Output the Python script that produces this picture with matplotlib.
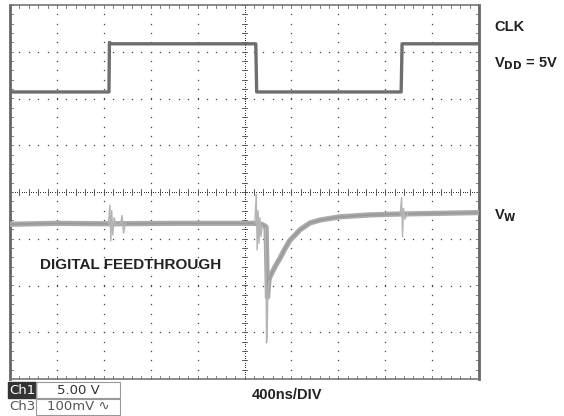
import numpy as np
import matplotlib
matplotlib.use('Agg')
import matplotlib.pyplot as plt
from matplotlib.patches import Rectangle

# screen is 10 x 8 divisions, x in div (0..10), y in div (-4..4)
clk_x = [0.0, 2.11, 2.12, 2.16, 5.24, 5.26, 8.34, 8.36, 10.0]
clk_y = [2.14, 2.14, 3.20, 3.17, 3.17, 2.14, 2.14, 3.17, 3.17]

# wiper output, main band
vw_x = [0.0, 1.0, 2.10, 3.5, 5.20, 5.36, 5.42, 5.46, 5.49, 5.52, 5.54, 5.65, 5.76,
        5.87, 5.97, 6.08, 6.18, 6.40, 6.61, 7.04, 7.68, 8.32, 8.96, 10.0]
vw_y = [-0.69, -0.67, -0.68, -0.67, -0.67, -0.69, -0.72, -0.75, -2.25, -1.90,
        -1.82, -1.60, -1.41, -1.20, -1.03, -0.92, -0.81, -0.66, -0.60, -0.53,
        -0.49, -0.47, -0.46, -0.44]

# ringing on the clock edges and the feedthrough spike
g1_x = [2.10, 2.13, 2.15, 2.17, 2.19, 2.22, 2.26, 2.36, 2.39, 2.42, 2.46]
g1_y = [-0.68, -0.28, -1.05, -0.40, -0.92, -0.55, -0.70, -0.68, -0.50, -0.88, -0.68]
g2_x = [5.22, 5.25, 5.27, 5.29, 5.31, 5.33, 5.35, 5.38]
g2_y = [-0.67, -0.05, -1.24, -0.40, -1.10, -0.55, -0.95, -0.70]
g3_x = [8.32, 8.35, 8.37, 8.39, 8.42, 8.48]
g3_y = [-0.47, -0.12, -0.96, -0.35, -0.58, -0.46]
sp_x = [5.45, 5.47, 5.48, 5.50, 5.52]
sp_y = [-0.75, -3.23, -3.10, -2.10, -1.90]

fig = plt.figure(figsize=(5.64, 4.16), dpi=100)
ax = fig.add_axes([10/564, 37/416, 469/564, 374/416])
ax.set_xlim(0, 10)
ax.set_ylim(-4, 4)
ax.set_xticks([])
ax.set_yticks([])
for s in ['left', 'right']:
    ax.spines[s].set_linewidth(2.0)
    ax.spines[s].set_color('#666666')
for s in ['top', 'bottom']:
    ax.spines[s].set_linewidth(1.2)
    ax.spines[s].set_color('#777777')

dot = dict(color='#444444', marker='s', markersize=0.9, markeredgewidth=0, linestyle='none')
# dotted graticule
for gx in range(1, 10):
    if gx == 5:
        continue
    yy = np.arange(-4, 4.01, 0.2)
    ax.plot(np.full_like(yy, gx), yy, **dot)
for gy in range(-3, 4):
    if gy == 0:
        continue
    xx = np.arange(0, 10.01, 0.2)
    ax.plot(xx, np.full_like(xx, gy), **dot)

# centre crosshair with minor ticks
yy = np.arange(-4, 4.01, 0.05)
ax.plot(np.full_like(yy, 5), yy, color='#333333', marker='s', markersize=0.7,
        markeredgewidth=0, linestyle='none')
xx = np.arange(0, 10.01, 0.05)
ax.plot(xx, np.zeros_like(xx), color='#333333', marker='s', markersize=0.7,
        markeredgewidth=0, linestyle='none')
for t in np.arange(-4, 4.01, 0.2):
    ax.plot([4.95, 5.05], [t, t], color='#444444', lw=0.6)
    ax.plot([0, 0.07], [t, t], color='#666666', lw=0.6)
    ax.plot([9.93, 10], [t, t], color='#666666', lw=0.6)
for t in np.arange(0, 10.01, 0.2):
    ax.plot([t, t], [-0.06, 0.06], color='#444444', lw=0.6)
    ax.plot([t, t], [3.93, 4], color='#666666', lw=0.6)
    ax.plot([t, t], [-4, -3.93], color='#666666', lw=0.6)

# traces
ax.plot(vw_x, vw_y, color='#aaaaaa', lw=3.8, solid_joinstyle='round', zorder=3)
ax.plot(vw_x, vw_y, color='#999999', lw=1.2, zorder=3)
for gx_, gy_ in [(g1_x, g1_y), (g2_x, g2_y), (g3_x, g3_y), (sp_x, sp_y)]:
    ax.plot(gx_, gy_, color='#b4b4b4', lw=1.0, zorder=3)
ax.plot(clk_x, clk_y, color='#6e6e6e', lw=2.4, zorder=4)

ax.text(0.65, -1.57, 'DIGITAL FEEDTHROUGH', fontsize=11, fontweight='bold',
        family='Liberation Sans', color='#222222', va='center')

lab = dict(fontsize=10.5, fontweight='bold', family='Liberation Sans', color='#222222')
fig.text(494/564, 1 - 27/416, 'CLK', va='center', **lab)
fig.text(494/564, 1 - 64/416, r'V$_{\mathbf{DD}}$ = 5V', va='center', **lab)
fig.text(494/564, 1 - 216/416, r'V$_{\mathbf{W}}$', va='center', **lab)
fig.text(287/564, 1 - 395/416, '400ns/DIV', ha='center', va='center', **lab)

# channel readouts
fig.patches.append(Rectangle((8/564, 1 - 398/416), 28/564, 16/416,
                             transform=fig.transFigure, color='#333333'))
fig.patches.append(Rectangle((36/564, 1 - 398/416), 84/564, 16/416, transform=fig.transFigure,
                             fill=False, edgecolor='#999999', lw=0.8))
fig.patches.append(Rectangle((36/564, 1 - 415/416), 84/564, 16/416, transform=fig.transFigure,
                             fill=False, edgecolor='#999999', lw=0.8))
fig.text(22/564, 1 - 390/416, 'Ch1', ha='center', va='center', fontsize=9.5, color='white',
         family='DejaVu Sans')
fig.text(78/564, 1 - 390/416, '5.00 V', ha='center', va='center', fontsize=9.5, color='#333333',
         family='DejaVu Sans')
fig.text(22/564, 1 - 407/416, 'Ch3', ha='center', va='center', fontsize=9.5, color='#555555',
         family='DejaVu Sans')
fig.text(78/564, 1 - 407/416, '100mV \u223f', ha='center', va='center', fontsize=9.5,
         color='#555555', family='DejaVu Sans')

plt.savefig('out.png', dpi=100)
